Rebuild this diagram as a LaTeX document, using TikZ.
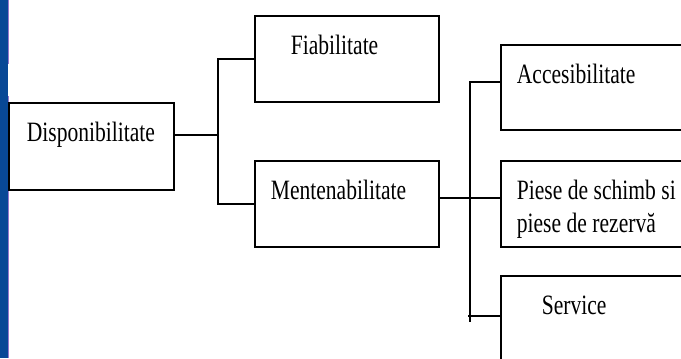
\documentclass[tikz,border=0pt]{standalone}
\usepackage{fontspec}
\newfontfamily\boxfont{Liberation Serif}[FakeStretch=0.77]
\newcommand\boxtext{\boxfont\fontsize{21}{24.75}\selectfont}
\usepackage{tikz}
\definecolor{barblue}{RGB}{8,72,150}
\definecolor{barpurple}{RGB}{150,120,205}

\begin{document}
\begin{tikzpicture}[x=0.75pt, y=-0.75pt, line width=1.3pt,
        box/.style={draw, rectangle, anchor=north west, align=left, inner ysep=0pt, text height=29.25pt, font=\boxtext, execute at begin node={\spaceskip4.1pt\relax}}]
            \useasboundingbox (0, 0) rectangle (681, 358);
            \clip (0, 0) rectangle (681, 358);
            % bara din stanga
            \fill [barblue] (0, 0) rectangle (7.5, 358);
            \fill [barpurple] (7.5, 0) rectangle (9, 64);
            \fill [barpurple] (7.5, 96) rectangle (9, 358);
            \node [box, inner xsep=13.5pt, text width=96.75pt, text depth=36pt] (disp) at (8, 102) {Disponibilitate};
            \node [box, inner xsep=27pt, text width=84pt, text depth=35.25pt] (fiab) at (254, 15) {Fiabilitate};
            \node [box, inner xsep=12pt, text width=114pt, text depth=35.25pt] (ment) at (254, 160) {Mentenabilitate};
            \node [box, inner xsep=12pt, text width=141pt, text depth=34.5pt] (acc) at (500, 44) {Accesibilitate};
            \node [box, inner xsep=12pt, text width=141pt, text depth=35.25pt] (piese) at (500, 160) {Piese de schimb si\\piese de rezervă};
            \node [box, inner xsep=30.75pt, text width=103.5pt, text depth=53.25pt] (serv) at (500, 275) {Service};
            \coordinate (fork1) at (218, 135);
            \coordinate (fork2) at (470, 198);
            \coordinate (top2) at (470, 82);
            \coordinate (bot2) at (470, 322);
            \coordinate (serv2) at (468, 316);
            \draw (disp.east |- fork1) -- (fork1);
            \draw (fiab.west) -| (fork1) |- (ment.west);
            \draw (ment.east |- fork2) -- (piese.west |- fork2);
            \draw (acc.west |- top2) -- (top2) -- (bot2);
            \draw (serv2) -- (serv.west |- serv2);
        \end{tikzpicture}
\end{document}
